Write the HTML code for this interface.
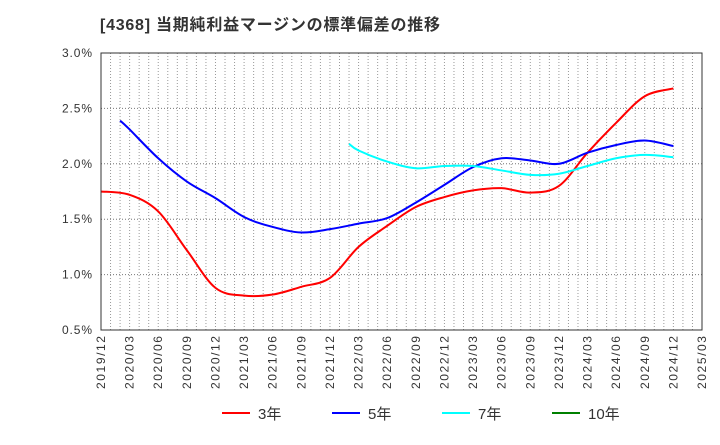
<!DOCTYPE html>
<html><head><meta charset="utf-8"><style>
body{margin:0;background:#fff;font-family:"Liberation Sans","Noto Sans CJK JP",sans-serif}
</style></head><body>
<svg width="720" height="440" xmlns="http://www.w3.org/2000/svg" id="svg" style="font-family:'Liberation Sans','Noto Sans CJK JP',sans-serif">
<text x="100" y="30" font-size="16" font-weight="bold" fill="#333" textLength="340">[4368]  当期純利益マージンの標準偏差の推移</text>
<g id="grid"></g><g id="series"></g><g id="axes"></g><g id="legend"></g>
</svg>
<script>
const xLabels=["2019/12","2020/03","2020/06","2020/09","2020/12","2021/03","2021/06","2021/09","2021/12","2022/03","2022/06","2022/09","2022/12","2023/03","2023/06","2023/09","2023/12","2024/03","2024/06","2024/09","2024/12","2025/03"];
const yTicks=[0.5,1.0,1.5,2.0,2.5,3.0];
const m3=[0,3,6,9,12,15,18,21,24,27,30,33,36,39,42,45,48,51,54,57,60];
const s3=[1.75,1.72,1.57,1.22,0.88,0.81,0.82,0.89,0.97,1.25,1.44,1.61,1.70,1.76,1.78,1.74,1.80,2.10,2.37,2.61,2.68];
const m5=[2,3,6,9,12,15,18,21,24,27,30,33,36,39,42,45,48,51,54,57,60];
const s5=[2.39,2.31,2.05,1.84,1.69,1.52,1.43,1.38,1.41,1.46,1.51,1.65,1.81,1.97,2.05,2.03,2.00,2.10,2.17,2.21,2.16];
const m7=[26,27,30,33,36,39,42,45,48,51,54,57,60];
const s7=[2.18,2.12,2.02,1.96,1.98,1.98,1.94,1.90,1.91,1.98,2.05,2.08,2.06];
const m10=[];
const s10=[];
const L=101,R=702,T=53,B=330;
const xm=m=>L+(R-L)*m/63;
const ys=v=>B-(v-0.5)/2.5*(B-T);
const NS="http://www.w3.org/2000/svg";
function mk(tag,attrs,parent){const e=document.createElementNS(NS,tag);for(const k in attrs)e.setAttribute(k,attrs[k]);parent.appendChild(e);return e;}
const grid=document.getElementById('grid'),axes=document.getElementById('axes'),ser=document.getElementById('series'),leg=document.getElementById('legend');
for(let m=1;m<63;m++){const x=xm(m);const l=mk('line',{x1:x,x2:x,y1:T,y2:B,stroke:'#999','stroke-dasharray':'1,2','stroke-width':1},grid);

}
yTicks.forEach(v=>{const y=ys(v);const l=mk('line',{x1:L,x2:R,y1:y,y2:y,stroke:'#777','stroke-dasharray':'1,2'},grid);


const t=mk('text',{x:L-9,y:y+4,'font-size':12,fill:'#333','text-anchor':'end',textLength:30},axes);t.textContent=v.toFixed(1)+'%';

});
const fr=mk('rect',{x:L,y:T,width:R-L,height:B-T,fill:'none',stroke:'#333'},axes);


xLabels.forEach((s,i)=>{const x=xm(i*3);const t=mk('text',{x:0,y:0,'font-size':12,fill:'#333','text-anchor':'end',textLength:53,transform:`translate(${x+4},${B+6}) rotate(-90)`},axes);t.textContent=s;

});
function path(ms,arr){const p=arr.map((v,i)=>[xm(ms[i]),ys(v)]);if(p.length<2)return '';
let d=`M${p[0][0]},${p[0][1]}`;for(let i=0;i<p.length-1;i++){const p0=p[i-1]||p[i],p1=p[i],p2=p[i+1],p3=p[i+2]||p2;
d+=` C${p1[0]+(p2[0]-p0[0])/6},${p1[1]+(p2[1]-p0[1])/6} ${p2[0]-(p3[0]-p1[0])/6},${p2[1]-(p3[1]-p1[1])/6} ${p2[0]},${p2[1]}`;}return d;}
[[m3,s3,'#ff0000','series-3y'],[m5,s5,'#0000ff','series-5y'],[m7,s7,'#00ffff','series-7y'],[m10,s10,'#008000','series-10y']].forEach(([m,a,c,n])=>{const d=path(m,a);if(!d)return;
const e=mk('path',{d:d,fill:'none',stroke:c,'stroke-width':2},ser);

});
[['3年','#ff0000',222],['5年','#0000ff',332],['7年','#00ffff',442],['10年','#008000',552]].forEach(([s,c,x])=>{
const l=mk('line',{x1:x,x2:x+28,y1:413,y2:413,stroke:c,'stroke-width':2},leg);


const t=mk('text',{x:x+36,y:419,'font-size':15,fill:'#333'},leg);t.textContent=s;

});
</script>
</body></html>
